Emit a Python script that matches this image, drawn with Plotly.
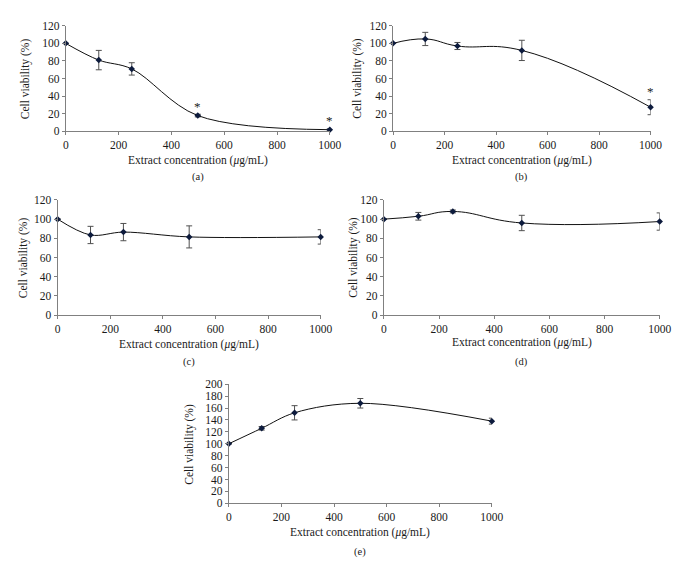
import plotly.graph_objects as go

W, H = 680, 562

conc = [0, 125, 250, 500, 1000]

via_a = [100, 81, 71, 18, 2]
err_a = [0, 11, 7, 1.5, 1]
star_a = [False, False, False, True, True]

via_b = [100, 105, 97, 92, 27.5]
err_b = [0, 7.5, 4, 11.5, 8.5]
star_b = [False, False, False, False, True]

via_c = [100, 83.5, 86.5, 81.5, 81.5]
err_c = [0, 9, 9, 11.5, 7.5]
star_c = [False] * 5

via_d = [100, 103, 108, 96, 97.5]
err_d = [0, 4, 1.5, 8, 9]
star_d = [False] * 5

via_e = [100, 126, 152, 168, 138]
err_e = [0, 3, 12, 8, 5]
star_e = [False] * 5

x_ticks = [0, 200, 400, 600, 800, 1000]
y_ticks_small = [0, 20, 40, 60, 80, 100, 120]
y_ticks_e = [0, 20, 40, 60, 80, 100, 120, 140, 160, 180, 200]

panels = [
    ("(a)", via_a, err_a, star_a, 120, y_ticks_small, 56, 326, 12, 120, 15, 150, 167, 1.0),
    ("(b)", via_b, err_b, star_b, 120, y_ticks_small, 390.7, 654, 12, 120, 354, 150, 167, 1.3),
    ("(c)", via_c, err_c, star_c, 120, y_ticks_small, 47.7, 316.7, 190, 307.7, 13, 338, 356, 1.0),
    ("(d)", via_d, err_d, star_d, 120, y_ticks_small, 381.3, 663.3, 190, 307.7, 350, 336, 356, 1.3),
    ("(e)", via_e, err_e, star_e, 200, y_ticks_e, 222.7, 491.7, 378.3, 500, 183, 530, 550, 1.0),
]

FONT = "Liberation Serif, Times New Roman, serif"
TXT = "#1a1a1a"
fig = go.Figure()
annotations = []
layout = {}

for i, (lab, vals, errs, stars, ymax, yt, x0, x1, yt_px, yb_px, ytx, xty, laby, sm) in enumerate(panels):
    n = "" if i == 0 else str(i + 1)
    xa, ya = "x" + n, "y" + n
    fig.add_trace(go.Scatter(
        x=conc, y=vals, xaxis=xa, yaxis=ya, mode="lines+markers",
        line=dict(shape="spline", smoothing=sm, color="#111111", width=1),
        marker=dict(symbol="diamond", size=5, color="#0d1b3d"),
        error_y=dict(type="data", array=errs, visible=True, color="#505050", thickness=1, width=3),
        cliponaxis=False, showlegend=False,
    ))
    layout["xaxis" + n] = dict(
        domain=[x0 / W, x1 / W], anchor=ya, range=[0, 1000], tickvals=x_ticks,
        showgrid=False, zeroline=False, showline=True, linecolor="#808080", linewidth=1,
        ticks="outside", ticklen=3, tickcolor="#808080",
        tickfont=dict(family=FONT, size=11.5, color=TXT),
    )
    layout["yaxis" + n] = dict(
        domain=[1 - yb_px / H, 1 - yt_px / H], anchor=xa, range=[0, ymax], tickvals=yt,
        showgrid=False, zeroline=False, showline=True, linecolor="#808080", linewidth=1,
        ticks="outside", ticklen=3, tickcolor="#808080",
        tickfont=dict(family=FONT, size=11.5, color=TXT),
    )
    annotations.append(dict(
        text="Cell viability (%)", xref="paper", yref="paper", x=ytx / W, y=1 - (yt_px + yb_px) / 2 / H,
        textangle=-90, showarrow=False, font=dict(family=FONT, size=11.5, color=TXT),
        xanchor="center", yanchor="middle",
    ))
    annotations.append(dict(
        text="Extract concentration (<i>μ</i>g/mL)", xref="paper", yref="paper",
        x=(x0 + x1) / 2 / W, y=1 - xty / H, showarrow=False,
        font=dict(family=FONT, size=11.5, color=TXT), xanchor="center", yanchor="middle",
    ))
    annotations.append(dict(
        text=lab, xref="paper", yref="paper", x=(x0 + x1) / 2 / W, y=1 - laby / H, showarrow=False,
        font=dict(family=FONT, size=10.5, color=TXT), xanchor="center", yanchor="middle",
    ))
    for xv, yv, ev, s in zip(conc, vals, errs, stars):
        if s:
            annotations.append(dict(
                text="*", xref=xa, yref=ya, x=xv, y=yv + ev, showarrow=False, yshift=8,
                font=dict(family=FONT, size=13, color=TXT), xanchor="center", yanchor="middle",
            ))

fig.update_layout(
    width=W, height=H, margin=dict(l=0, r=0, t=0, b=0),
    paper_bgcolor="white", plot_bgcolor="white", annotations=annotations, **layout,
)
fig.write_html("out.html")
